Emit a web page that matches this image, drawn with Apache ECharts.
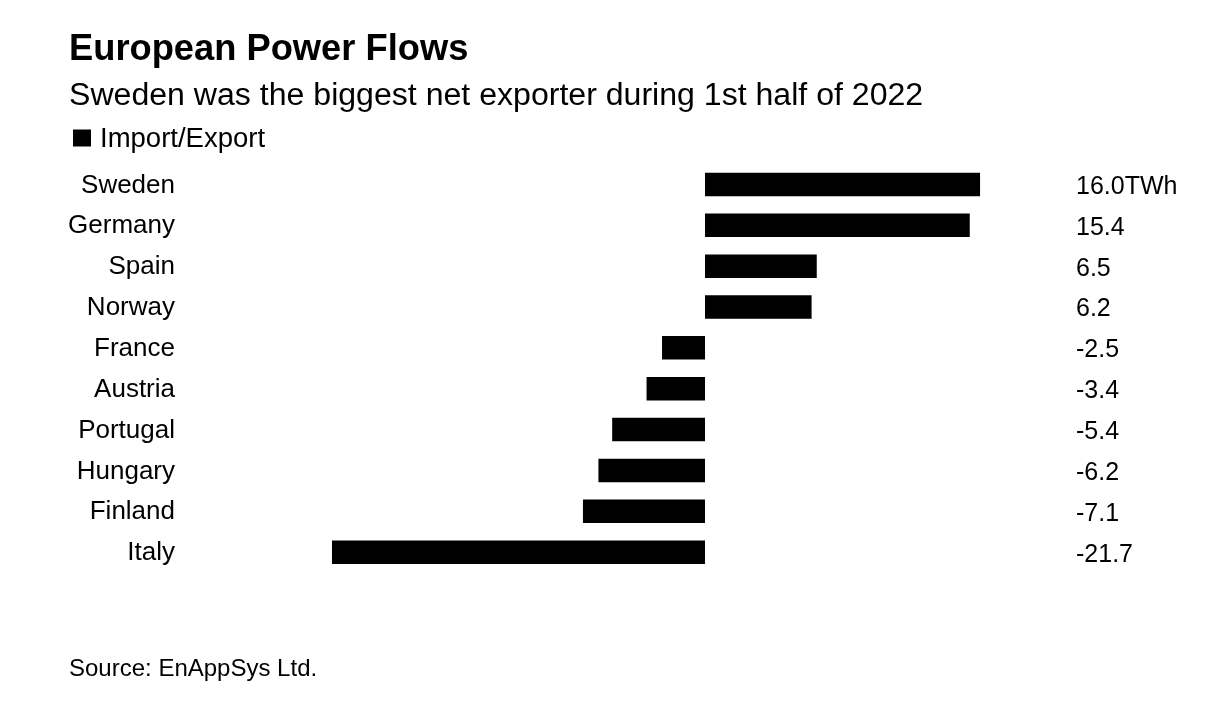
<!DOCTYPE html>
<html>
<head>
<meta charset="utf-8">
<style>
html, body { margin: 0; padding: 0; background: #fff; }
#chart { width: 1232px; height: 716px; }
</style>
<script src="https://cdn.jsdelivr.net/npm/echarts@6/dist/echarts.min.js"></script>
</head>
<body>
<div id="chart"></div>
<script>
const countries = ['Sweden', 'Germany', 'Spain', 'Norway', 'France', 'Austria', 'Portugal', 'Hungary', 'Finland', 'Italy']
const values = [16.0, 15.4, 6.5, 6.2, -2.5, -3.4, -5.4, -6.2, -7.1, -21.7]
const valueLabels = ['16.0TWh', '15.4', '6.5', '6.2', '-2.5', '-3.4', '-5.4', '-6.2', '-7.1', '-21.7']

const font = '"Liberation Sans", Inter, sans-serif'
const myChart = echarts.init(document.getElementById('chart'), null, { renderer: 'canvas' })

// 17.19 px per TWh, zero line at x=705
const option = {
	backgroundColor: '#fff',
	animation: false,
	textStyle: { fontFamily: font, color: '#000' },
	title: [
		{ text: 'European Power Flows', left: 64, top: 27, textStyle: { fontFamily: font, fontSize: 36.3, fontWeight: 700, color: '#000' } },
		{ text: 'Sweden was the biggest net exporter during 1st half of 2022', left: 64, top: 75, textStyle: { fontFamily: font, fontSize: 32.1, fontWeight: 400, color: '#000' } },
		{ text: 'Source: EnAppSys Ltd.', left: 64, top: 652, textStyle: { fontFamily: font, fontSize: 24, fontWeight: 400, color: '#000' } }
	],
	legend: {
		left: 68, top: 120,
		itemWidth: 18, itemHeight: 17, itemGap: 8,
		icon: 'rect',
		formatter: '{a|{name}}',
		textStyle: { rich: { a: { fontFamily: font, fontSize: 27.5, color: '#000', padding: [2, 0, 0, 4] } } },
		data: ['Import/Export']
	},
	grid: { left: 185, right: 1232 - 1060, top: 164, height: 408.6 },
	xAxis: {
		type: 'value',
		min: -30.25,
		max: 20.65,
		show: false
	},
	yAxis: [{
		type: 'category',
		inverse: true,
		data: countries,
		position: 'left',
		axisLine: { show: false },
		axisTick: { show: false },
		axisLabel: { fontFamily: font, fontSize: 26, color: '#000', margin: 10, verticalAlign: 'top', lineHeight: 2 }
	}, {
		type: 'category',
		inverse: true,
		data: valueLabels,
		position: 'right',
		axisLine: { show: false },
		axisTick: { show: false },
		axisLabel: { fontFamily: font, fontSize: 25, color: '#000', align: 'left', margin: 16, verticalAlign: 'top', lineHeight: 5 }
	}],
	series: [{
		name: 'Import/Export',
		type: 'bar',
		data: values,
		barWidth: 23.5,
		itemStyle: { color: '#000' }
	}]
}
myChart.setOption(option)
</script>
</body>
</html>
